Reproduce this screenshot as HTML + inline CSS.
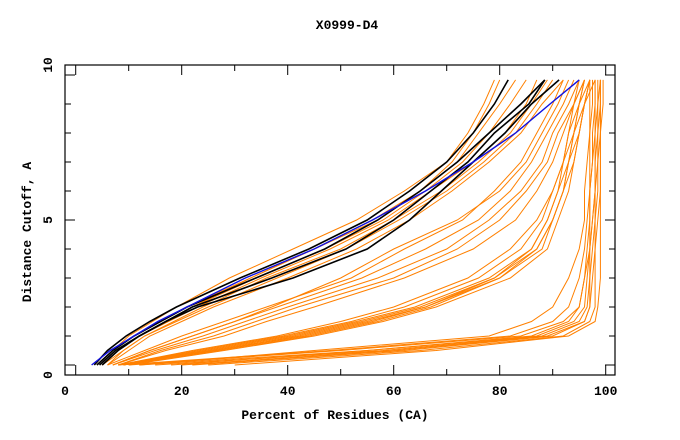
<!DOCTYPE html>
<html><head><meta charset="utf-8">
<style>
body{margin:0;background:#fff;}
svg{display:block;}
text{font-family:"Liberation Mono",monospace;font-weight:bold;fill:#000;}
</style></head>
<body>
<svg id="chart" width="680" height="440" viewBox="0 0 680 440" xmlns="http://www.w3.org/2000/svg">
<text x="347" y="29" font-size="13" text-anchor="middle">X0999-D4</text>
<text x="0" y="0" font-size="13" text-anchor="middle" transform="translate(31,232) rotate(-90)">Distance Cutoff, A</text>
<text x="335" y="419" font-size="13" text-anchor="middle">Percent of Residues (CA)</text>
<g id="ticks"></g>
<g id="lines"></g>
<rect x="65" y="65" width="550" height="310" fill="none" stroke="#000" stroke-width="1.2"/>
</svg>
<script>
const cutoffs = [0,0.5,1,1.5,2,3,4,5,6,7,8,9,9.83];
const xTickValues = [0,10,20,30,40,50,60,70,80,90,100];
const xTickLabels = ["0","20","40","60","80","100"];
const yTickValues = [0,1,2,3,4,5,6,7,8,9,10];
const yTickLabels = ["0","5","10"];
const orangeSeries = [
[4,7,10,14.5,19,29,41,53,62,70,74,77,79],
[4,7,11,16,21,33,45,57,65,71,75,78,80],
[5,8,12,17,22,34,47,58,66,73,78,82,85],
[5,8,12,17.5,23,35,48,59,67,75,81,85,87],
[5,9,13,18.5,24,36,50,60,69,76,82,86,89],
[6,9,13,19,25,38,51,61,70,77,83,87,90],
[5,8,12,17,22,33,45,56,65,72,76,80,83],
[6,10,14,20,26,40,53,63,71,78,84,88,92],
[7,14,22,30,38,54,66,76,82,86,89,92,94],
[7,15,24,32,40,57,70,78,84,88,90,93,95],
[6,13,20,28,36,52,62,73,79,84,87,90,92],
[8,16,26,34,42,60,72,80,85,89,91,94,96],
[7,14,22,30,37,50,60,72,80,85,88,91,93],
[8,17,28,36,45,62,75,83,87,90,92,94,96],
[8,24,40,53,64,78,86,89,91,92,93,95,96],
[9,26,43,56,66,79,87,90,92,93,94,95,97],
[8,25,41,54,65,79,86,89,91,93,95,96,97],
[9,27,44,57,67,80,88,90,92,94,95,96,98],
[8,23,39,52,62,76,84,88,90,92,94,95,96],
[9,26,42,55,66,80,87,90,92,93,94,96,97],
[10,28,45,58,68,82,89,91,93,94,95,96,97],
[8,22,38,50,60,74,82,87,90,92,93,94,95],
[10,50,84,92,95,96,97,97,97,97.5,97.5,98,98],
[12,55,87,94,96,96.5,97,97.5,98,98,98,98.5,98.5],
[22,62,90,96,97,97,97.5,98,98,98.5,98.5,99,99],
[15,58,88,95,96.5,97,97,97.5,98,98,98.5,98.5,99],
[20,60,89,96,97,97.5,98,98,98.5,98.5,99,99,99],
[25,65,92,97,98,98,98,98.5,99,99,99,99,99],
[8,48,82,90,93,95,96,96.5,97,97,97,97.5,97.5],
[30,68,93,98,98.5,99,99,99,99,99,99,99.5,99.5],
[18,55,86,93,95,96,96.5,97,97,97.5,98,98,98],
[12,45,78,86,90,93,95,96,96,96.5,97,97,97]
];
const blackSeries = [
[3.5,6,9.5,14,19,31,44,55,63,70,75,79,81.6],
[4,7,11,16,21,34,47,57,65,72,78,84,88.5],
[5,8,12,17,23,41,55,63,69,75,81,86,91.2],
[4.5,7.5,12,17,22,37,51,60,67,74,79,85.5,88.5]
];
const blueSeries = [3,6.5,11,15.5,21,32,45,56,66,75,83,89.5,95];

const NS="http://www.w3.org/2000/svg";
function xs(v){return 75.7+5.3*v;}
function ys(v){return 365-29*v;}
const tg=document.getElementById('ticks');
const lg=document.getElementById('lines');
function mk(tag,attrs,parent){const e=document.createElementNS(NS,tag);for(const k in attrs)e.setAttribute(k,attrs[k]);parent.appendChild(e);return e;}

xTickValues.forEach((v,i)=>{
  const len = v%20===0?10:6;
  const t1=mk('line',{x1:xs(v),x2:xs(v),y1:375,y2:375-len,stroke:'#000','stroke-width':1},tg);
  
  
  const t2=mk('line',{x1:xs(v),x2:xs(v),y1:65,y2:65+len,stroke:'#000','stroke-width':1},tg);
  
  
});
xTickLabels.forEach((s,i)=>{
  const v=i*20;
  const tx=mk('text',{x:v===0?65:xs(v),y:395,'font-size':13,'text-anchor':'middle'},tg);
  tx.textContent=s;
  
  
});
yTickValues.forEach(v=>{
  const len = v%5===0?10:6;
  const a=mk('line',{x1:65,x2:65+len,y1:ys(v),y2:ys(v),stroke:'#000','stroke-width':1},tg);
  
  
  const b=mk('line',{x1:615,x2:615-len,y1:ys(v),y2:ys(v),stroke:'#000','stroke-width':1},tg);
  
  
});
yTickLabels.forEach((s,i)=>{
  const yy=[375,220,65][i];
  const tx=mk('text',{x:0,y:0,'font-size':13,'text-anchor':'middle',transform:`translate(52,${yy}) rotate(-90)`},tg);
  tx.textContent=s;
  
  
});
function pts(arr){return arr.map((p,i)=>xs(p).toFixed(1)+','+ys(cutoffs[i]).toFixed(1)).join(' ');}
orangeSeries.forEach(s=>{
  const p=mk('polyline',{points:pts(s),fill:'none',stroke:'#ff8000','stroke-width':1},lg);
  
  
});
blackSeries.forEach(s=>{
  const p=mk('polyline',{points:pts(s),fill:'none',stroke:'#000','stroke-width':1.6},lg);
  
  
});
const bp=mk('polyline',{points:pts(blueSeries),fill:'none',stroke:'#1010e0','stroke-width':1.4},lg);


</script>
</body></html>
